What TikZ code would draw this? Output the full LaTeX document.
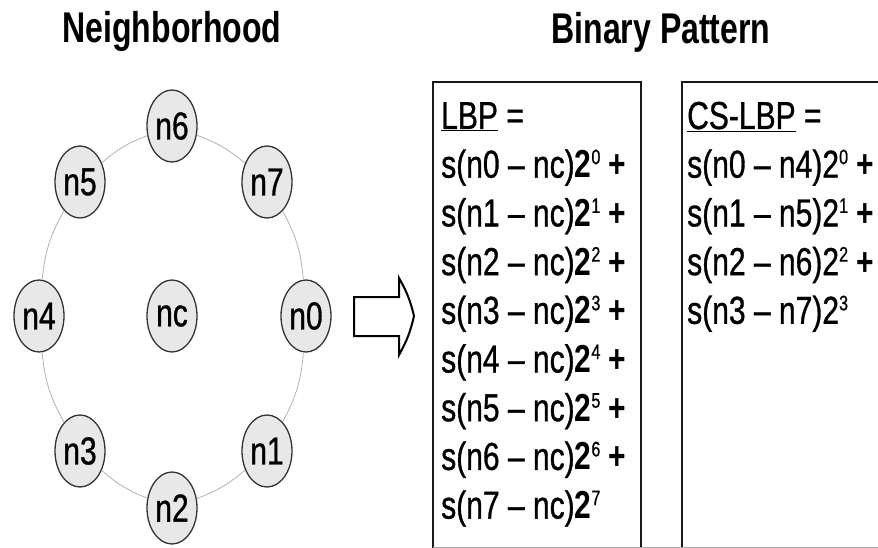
\documentclass[tikz,border=0pt]{standalone}
\usepackage{fontspec}
\setmainfont[FakeStretch=0.77, UprightFeatures={FakeBold=0.8}]{Liberation Sans}
\newfontfamily\headfont[FakeStretch=0.745]{Liberation Sans}
\usetikzlibrary{shapes.geometric}

% small raised exponent after the base 2
\newcommand\pw[1]{\raisebox{13.5pt}{\fontsize{21}{21}\selectfont #1}}

\tikzset{
  nbr/.style={ellipse, draw=black!80, line width=1.3pt, fill=gray!18,
              minimum width=50pt, minimum height=72pt, inner sep=0pt,
              font=\fontsize{39}{39}\selectfont},
  ring/.style={draw=gray!60, line width=0.8pt},
  heading/.style={inner sep=0pt, anchor=base,
              font=\headfont\bfseries\fontsize{43}{48}\selectfont},
  eqline/.style={inner sep=0pt, anchor=base west,
              font=\fontsize{39}{45}\selectfont},
  frame/.style={draw=black!90, line width=1.8pt},
}

\begin{document}
\begin{tikzpicture}[x=1pt, y=-1pt]
\useasboundingbox (0,0) rectangle (878,548);

% headings
\node[heading] (hn) at (172,43) {Neighborhood};
\node[heading] (hb) at (661,44) {Binary Pattern};

% neighbourhood pixels
\node[nbr] (n6) at (172,126) {n6};
\node[nbr] (n5) at (80,182)  {n5};
\node[nbr] (n7) at (267,182) {n7};
\node[nbr] (n4) at (39,316)  {n4};
\node[nbr] (nc) at (172,316) {nc};
\node[nbr] (n0) at (306,316) {n0};
\node[nbr] (n3) at (80,451)  {n3};
\node[nbr] (n1) at (267,451) {n1};
\node[nbr] (n2) at (172,508) {n2};

% circle through the neighbours
\draw[ring] (n0) to[bend right=12] (n7);
\draw[ring] (n7) to[bend right=10] (n6);
\draw[ring] (n6) to[bend right=10] (n5);
\draw[ring] (n5) to[bend right=12] (n4);
\draw[ring] (n4) to[bend right=12] (n3);
\draw[ring] (n3) to[bend right=10] (n2);
\draw[ring] (n2) to[bend right=10] (n1);
\draw[ring] (n1) to[bend right=12] (n0);

% hollow block arrow
\draw[line width=2pt, line join=miter]
  (354,297) -- (399,297) -- (399,278) to[bend left=8] (414,316)
  to[bend left=8] (399,355) -- (399,336) -- (354,336) -- cycle;

% frames of the two formula boxes
\draw[frame] (433,549) -- (433,82) -- (641,82) -- (641,549);
\draw[frame] (682,549) -- (682,82) -- (880,82);
\draw[gray!70, line width=1pt] (433,547.5) -- (878,547.5);

% LBP terms
\node[eqline] (l0) at (441,129)   {\underline{LBP} =};
\node[eqline] (l1) at (441,177.7) {s(n0 – nc)\textbf{2}\pw{0} \textbf{+}};
\node[eqline] (l2) at (441,226.4) {s(n1 – nc)\textbf{2}\pw{1} \textbf{+}};
\node[eqline] (l3) at (441,275.1) {s(n2 – nc)\textbf{2}\pw{2} \textbf{+}};
\node[eqline] (l4) at (441,323.8) {s(n3 – nc)\textbf{2}\pw{3} \textbf{+}};
\node[eqline] (l5) at (441,372.5) {s(n4 – nc)\textbf{2}\pw{4} \textbf{+}};
\node[eqline] (l6) at (441,421.2) {s(n5 – nc)\textbf{2}\pw{5} \textbf{+}};
\node[eqline] (l7) at (441,469.9) {s(n6 – nc)\textbf{2}\pw{6} \textbf{+}};
\node[eqline] (l8) at (441,518.6) {s(n7 – nc)\textbf{2}\pw{7}};

% CS-LBP terms
\node[eqline] (c0) at (687,129)   {\underline{CS-LBP} =};
\node[eqline] (c1) at (687,177.7) {s(n0 – n4)2\pw{0} \textbf{+}};
\node[eqline] (c2) at (687,226.4) {s(n1 – n5)2\pw{1} \textbf{+}};
\node[eqline] (c3) at (687,275.1) {s(n2 – n6)2\pw{2} \textbf{+}};
\node[eqline] (c4) at (687,323.8) {s(n3 – n7)2\pw{3}};
\end{tikzpicture}
\end{document}
